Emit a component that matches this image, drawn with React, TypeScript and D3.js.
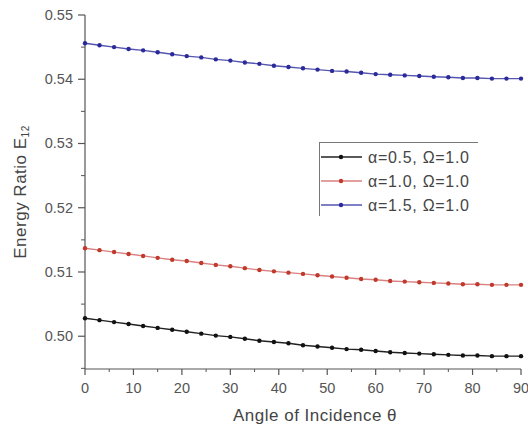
import React from "react";
import * as d3 from "d3";

const angles = [0,3,6,9,12,15,18,21,24,27,30,33,36,39,42,45,48,51,54,57,60,63,66,69,72,75,78,81,84,87,90];
const seriesA05 = [0.5028,0.5025,0.5022,0.5019,0.5016,0.5013,0.5010,0.5007,0.5004,0.5001,0.4999,0.4996,0.4993,0.4991,0.4989,0.4986,0.4984,0.4982,0.4980,0.4979,0.4977,0.4975,0.4974,0.4973,0.4972,0.4971,0.4970,0.4970,0.4969,0.4969,0.4969];
const seriesA10 = [0.5137,0.5134,0.5131,0.5128,0.5125,0.5122,0.5119,0.5117,0.5114,0.5111,0.5109,0.5106,0.5103,0.5101,0.5099,0.5097,0.5095,0.5093,0.5091,0.5089,0.5088,0.5086,0.5085,0.5084,0.5083,0.5082,0.5081,0.5081,0.5080,0.5080,0.5080];
const seriesA15 = [0.5456,0.5453,0.5450,0.5447,0.5445,0.5442,0.5439,0.5436,0.5434,0.5431,0.5429,0.5426,0.5424,0.5421,0.5419,0.5417,0.5415,0.5413,0.5412,0.5410,0.5408,0.5407,0.5406,0.5405,0.5404,0.5403,0.5402,0.5402,0.5401,0.5401,0.5401];
const seriesNames = ["α=0.5, Ω=1.0", "α=1.0, Ω=1.0", "α=1.5, Ω=1.0"];
const xTicks = [0,10,20,30,40,50,60,70,80,90];
const yTicks = [0.50,0.51,0.52,0.53,0.54,0.55];

const colors = ["#111111", "#c0392b", "#2a2a9a"];
const lineColors = ["#222222", "#d98080", "#5555b0"];

export default function App() {
  const W = 528, H = 427;
  const x = d3.scaleLinear().domain([0, 90]).range([85, 521]);
  const y = d3.scaleLinear().domain([0.4949, 0.55]).range([369, 15]);
  const line = d3.line<number>().x((_, i) => x(angles[i])).y(d => y(d));
  const all = [seriesA05, seriesA10, seriesA15];
  const minorX = d3.range(5, 90, 10);
  const minorY = [0.495,0.505,0.515,0.525,0.535,0.545];
  const axisColor = "#555";
  const font = "Liberation Sans, Arial, sans-serif";
  return (
    <svg width={W} height={H} style={{ position: "absolute", left: 0, top: 0, background: "#fff" }} fontFamily={font}>
      {/* axes */}
      <line x1={85} y1={15} x2={85} y2={369} stroke={axisColor} strokeWidth={1.2} />
      <line x1={85} y1={369} x2={521} y2={369} stroke={axisColor} strokeWidth={1.2} />
      {yTicks.map(t => (
        <g key={"y" + t}>
          <line x1={78} x2={85} y1={y(t)} y2={y(t)} stroke={axisColor} strokeWidth={1.2} />
          <text x={73} y={y(t) + 5} textAnchor="end" fontSize={14.5} fill="#555">{t.toFixed(2)}</text>
        </g>
      ))}
      {minorY.map(t => (
        <line key={"my" + t} x1={81} x2={85} y1={y(t)} y2={y(t)} stroke={axisColor} strokeWidth={1} />
      ))}
      {xTicks.map(t => (
        <g key={"x" + t}>
          <line x1={x(t)} x2={x(t)} y1={369} y2={375} stroke={axisColor} strokeWidth={1.2} />
          <text x={x(t)} y={393} textAnchor="middle" fontSize={14.5} fill="#555">{t}</text>
        </g>
      ))}
      {minorX.map(t => (
        <line key={"mx" + t} x1={x(t)} x2={x(t)} y1={369} y2={372} stroke={axisColor} strokeWidth={1} />
      ))}
      <text x={315} y={421} textAnchor="middle" fontSize={17} letterSpacing={0.5} fill="#444">Angle of Incidence θ</text>
      <text transform="translate(26,192) rotate(-90)" textAnchor="middle" fontSize={17} letterSpacing={0.5} fill="#444">
        Energy Ratio E<tspan fontSize={10} dy={3}>12</tspan>
      </text>
      {/* series */}
      {all.map((s, k) => (
        <g key={"s" + k}>
          <path d={line(s) || ""} fill="none" stroke={lineColors[k]} strokeWidth={1.4} />
          {s.map((v, i) => (
            <circle key={i} cx={x(angles[i])} cy={y(v)} r={2.2} fill={colors[k]} />
          ))}
        </g>
      ))}
      {/* legend */}
      <line x1={319} y1={142.5} x2={478} y2={142.5} stroke="#777" strokeWidth={1} />
      <line x1={319.5} y1={142} x2={319.5} y2={216} stroke="#777" strokeWidth={1} />
      {seriesNames.map((n, k) => {
        const ly = 157 + k * 24;
        return (
          <g key={"l" + k}>
            <line x1={321} x2={362} y1={ly} y2={ly} stroke={lineColors[k]} strokeWidth={1.4} />
            <circle cx={341} cy={ly} r={2.2} fill={colors[k]} />
            <text x={368} y={ly + 5.5} fontSize={16} letterSpacing={0.7} fill="#444">{n}</text>
          </g>
        );
      })}
    </svg>
  );
}
